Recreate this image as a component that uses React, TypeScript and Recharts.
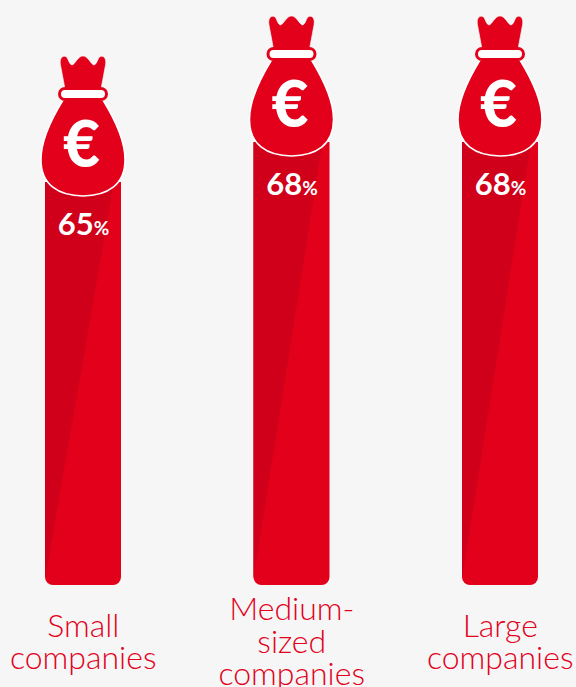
import React from "react";
import { BarChart, Bar, XAxis, YAxis, LabelList, Rectangle } from "recharts";

const categories = ["Small companies", "Medium-sized companies", "Large companies"];
const tickLines = [["Small", "companies"], ["Medium-", "sized", "companies"], ["Large", "companies"]];
const shares = [65, 68, 68];
const rows = categories.map((name, i) => ({ name, share: shares[i] }));

const RED = "#e2001a";
const DARK = "#d0001a";
const FONT = "Lato, sans-serif";

function BagBar(props: any) {
  const { x, y, width, height } = props;
  const cx = x + width / 2;
  return (
    <g>
      <Rectangle x={x} y={y} width={width} height={height} radius={[0, 0, 8, 8]} fill={RED} />
      <polygon points={`${x},${y} ${x + 69},${y} ${x},${y + height - 6}`} fill={DARK} />
      <g transform={`translate(${cx},${y - 7})`}>
        <path
          d="M-18,-86 L-22.5,-110 C-24,-118 -19,-120.5 -16,-117.5 C-14.5,-115 -13.5,-110.5 -11,-110 C-8,-110.5 -5,-119 0,-119 C5,-119 8,-110.5 11,-110 C13.5,-110.5 14.5,-115 16,-117.5 C19,-120.5 24,-118 22.5,-110 L18,-86 Z"
          fill={RED}
          stroke="#fff"
          strokeOpacity={0.6}
          strokeWidth={1}
        />
        <path
          d="M-20,-75 C-28,-62 -42,-38 -42,-16 C-42.5,10 -24,21 0,21 C24,21 42.5,10 42,-16 C42,-38 28,-62 20,-75 Z"
          fill={RED}
          stroke="#fff"
          strokeWidth={1.6}
        />
        <rect x={-23.5} y={-86.5} width={47} height={11} rx={5.5} fill="#fff" stroke={RED} strokeWidth={3} />
        <text x={-1.5} y={-8} textAnchor="middle" fontFamily={FONT} fontWeight={900} fontSize={64} fill="#fff">
          €
        </text>
      </g>
    </g>
  );
}

function ShareLabel(props: any) {
  const { x, y, width, value } = props;
  return (
    <text x={x + width / 2 + 0.5} y={y + 53} textAnchor="middle" fontFamily={FONT} fill="#fff" fontWeight={700}>
      <tspan fontSize={31}>{value}</tspan>
      <tspan fontSize={19}>%</tspan>
    </text>
  );
}

function CompanyTick(props: any) {
  const { x, index } = props;
  const lines = tickLines[index];
  const bottom = lines.length === 3 ? 685 : 669;
  return (
    <text textAnchor="middle" fontFamily={FONT} fontWeight={300} fontSize={32} fill={RED}>
      {lines.map((line, i) => (
        <tspan key={line} x={x} y={bottom - (lines.length - 1 - i) * 32.5}>
          {line}
        </tspan>
      ))}
    </text>
  );
}

export default function App() {
  return (
    <div
      style={{
        position: "fixed",
        left: 0,
        top: 0,
        width: 576,
        height: 687,
        overflow: "hidden",
        background: "#f6f6f6",
      }}
    >
      <div style={{ position: "absolute", left: -21.25, top: 0 }}>
        <BarChart
          width={625.5}
          height={687}
          data={rows}
          margin={{ top: 0, right: 0, bottom: 0, left: 0 }}
          barSize={76}
        >
          <YAxis hide domain={[34.77, 78.65]} allowDataOverflow />
          <XAxis
            dataKey="name"
            height={102}
            axisLine={false}
            tickLine={false}
            interval={0}
            tick={<CompanyTick />}
          />
          <Bar dataKey="share" isAnimationActive={false} shape={<BagBar />}>
            <LabelList dataKey="share" content={<ShareLabel />} />
          </Bar>
        </BarChart>
      </div>
    </div>
  );
}
